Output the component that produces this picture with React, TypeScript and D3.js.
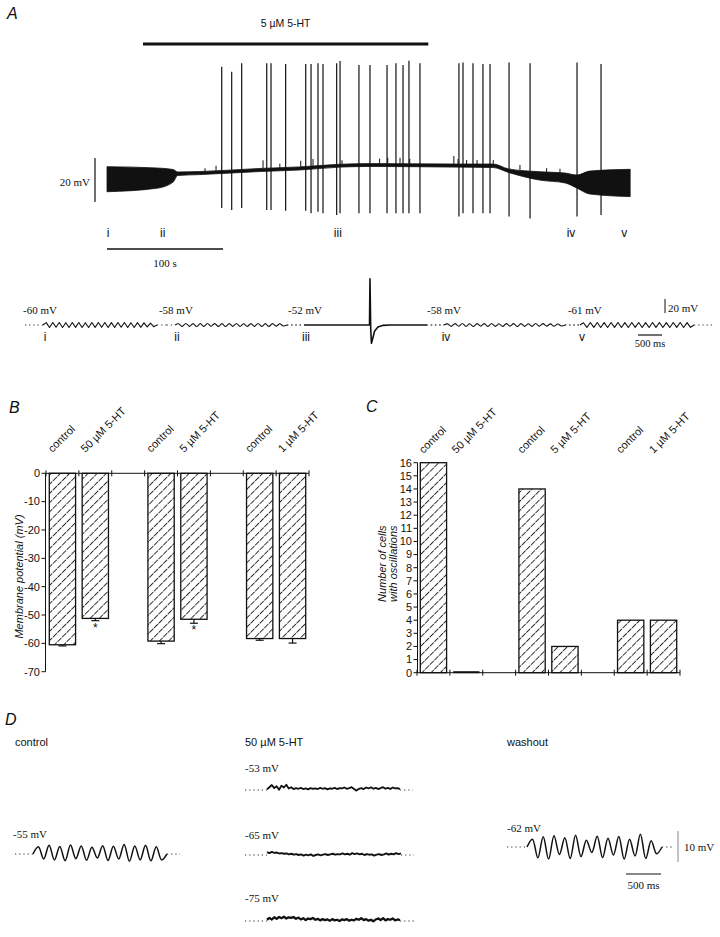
import React from "react";
import * as d3 from "d3";

const SANS = "'Liberation Sans', Arial, Helvetica, sans-serif";
const SERIF = "'Liberation Serif', 'Times New Roman', serif";

// ---------------- Panel A : long recording ----------------
const drugLabel = "5 µM 5-HT";
const drugOnOff = [31, 277]; // s
const envTimes = [0, 43, 57, 61, 80, 132, 166, 201, 227, 300, 333, 346, 373, 395, 405, 416, 451];
const envUpper = [-54.4, -55.0, -55.7, -56.8, -56.6, -55.2, -54.5, -53.3, -53.0, -53.2, -53.2, -55.4, -56.7, -57.3, -58.2, -56.4, -55.6];
const envLower = [-65.8, -64.2, -61.4, -58.4, -58.0, -56.6, -55.9, -54.6, -54.3, -54.6, -54.8, -57.0, -60.5, -61.8, -64.1, -66.8, -68.0];
const spikeTimes = [98.9, 107.5, 116.1, 137.7, 141.4, 154, 171.3, 175.9, 181.9, 186.2, 198, 200.9, 217.2, 226.7, 241.4, 249.1, 255.2, 260.3, 269.8, 303.4, 306.9, 315.5, 324.1, 330.2, 346.6, 364.7, 405.2, 425.9];
const spikePeaks = [-9.0, -11.2, -7.4, -7.4, -7.4, -7.7, -7.7, -7.7, -7.4, -7.7, -7.4, -6.4, -8.2, -8.2, -8.2, -7.4, -8.2, -6.2, -7.4, -7.4, -7.0, -7.4, -7.7, -7.7, -7.0, -7.4, -7.0, -7.7];
const spikeTroughs = [-73.2, -74.1, -73.2, -74.1, -74.1, -74.4, -74.4, -75.6, -74.9, -75.6, -76.4, -75.6, -75.6, -75.6, -75.6, -75.6, -75.6, -75.6, -75.6, -77.1, -75.6, -75.6, -75.6, -75.6, -77.1, -77.9, -77.1, -76.4];
const miniTimes = [84.5, 94, 134.5, 149, 167, 177.6, 202.6, 235, 242, 252.6, 261, 299, 302.6, 310, 319, 333, 356, 379, 390.5];
const miniAmps = [3, 5, 8, 4, 6, 7, 4, 5, 6, 6, 5, 8, 5, 4, 4, 4, 5, 4, 4];
const epochLabels = ["i", "ii", "iii", "iv", "v"];
const epochTimes = [1, 48, 199, 400, 446];

// ---------------- Panel A : expanded traces ----------------
const segLabels = ["-60 mV", "-58 mV", "-52 mV", "-58 mV", "-61 mV"];
const segLabelT = [-40, 2790, 5480, 8375, 11310];
const segStart = [0, 2950, 5460, 8450, 11250];
const segOscStart = [375, 3125, 5812, 8729, 11562];
const segOscEnd = [2750, 5458, 8375, 11250, 13937];
const segEnd = [3000, 5800, 8690, 11560, 14375];
const oscI = [3.4, -3.6, 3.5, -3.2, 3.6, -3.5, 3.3, -3.6, 3.5, -3.4, 3.6, -3.5, 3.2, -3.6, 3.5, -3.4, 3.6, -3.3, 3.5, -3.6, 3.4, -3.5, 3.6, -3.2, 3.5, -3.6, 3.3, -3.5, 3.4, -3.3, 3.0, -2.8, 2.6, -2.4];
const oscII = [1.8, -2.0, 2.1, -1.9, 2.0, -2.1, 1.9, -2.0, 2.1, -1.8, 2.0, -2.0, 1.9, -2.1, 2.0, -1.9, 2.1, -2.0, 1.8, -2.0, 2.0, -1.9, 2.1, -2.0, 1.9, -2.0, 2.0, -1.8, 1.7, -1.5];
const iiiT = [0, 1350, 1365, 1375, 1390, 1405, 1430, 1470, 1540, 1650, 1800, 2563];
const iiiV = [0, 0.3, 0, 66, -4, -26, -20, -9, -3, -0.5, 0, 0];
const oscIV = [1.6, -1.9, 2.0, -1.8, 2.1, -2.0, 1.8, -2.1, 2.0, -1.7, 1.9, -2.0, 2.1, -1.9, 1.8, -2.0, 2.0, -1.8, 1.9, -2.1, 2.0, -1.9, 1.7, -2.0, 2.1, -1.8, 1.9, -1.7, 1.6, -1.8, 1.5, -1.4];
const oscV = [3.2, -3.5, 3.6, -3.4, 3.5, -3.6, 3.3, -3.5, 3.6, -3.4, 3.5, -3.6, 3.4, -3.5, 3.6, -3.3, 3.5, -3.6, 3.4, -3.5, 3.6, -3.4, 3.5, -3.6, 3.3, -3.5, 3.6, -3.4, 3.5, -3.6, 3.4, -3.3];

// ---------------- Panel B ----------------
const groupLabels = ["control", "50 µM 5-HT", "control", "5 µM 5-HT", "control", "1 µM 5-HT"];
const groupSlots = [0, 1, 3, 4, 6, 7];
const vmMeans = [-60.5, -51.2, -59.2, -51.5, -58.3, -58.3];
const vmErrs = [0.4, 0.8, 0.9, 1.4, 0.6, 1.6];
const vmSig = [false, true, false, true, false, false];
const vmTicks = [0, -10, -20, -30, -40, -50, -60, -70];

// ---------------- Panel C ----------------
const oscCounts = [16, 0, 14, 2, 4, 4];
const countTicks = [0, 1, 2, 3, 4, 5, 6, 7, 8, 9, 10, 11, 12, 13, 14, 15, 16];

// ---------------- Panel D ----------------
const dTitles = ["control", "50 µM 5-HT", "washout"];
const ctrlOsc = [2.3, -1.6, 2.8, -1.9, 2.4, -2.2, 2.9, -1.5, 2.6, -2.0, 2.2, -1.3, 2.7, -2.1, 2.5, -1.6, 3.1, -2.3, 2.6, -1.9, 2.8, -2.2, 2.3, -1.9];
const washOsc = [2.5, -3.5, 3.3, -3.9, 3.6, -2.4, 3.0, -3.7, 3.8, -3.1, 2.2, -1.8, 3.5, -3.4, 2.8, -2.6, 3.4, -3.9, 2.5, -2.9, 4.1, -3.7, 2.0, -2.2];
const noise53 = [0.2, 0.9, 1.6, 0.6, 1.2, 0.1, 1.4, 0.8, 1.7, 0.5, 0.9, 0.3, 0.6, 0.4, 0.7, 0.3, 0.5, 0.2, 0.6, 0.4, 0.5, 0.3, 0.7, 0.4, 0.6, 0.2, 0.5, 0.4, 0.7, 0.3, 0.6, 0.5, 0.8, 0.4, 0.6, 0.9, 0.3, -0.2, 0.4, 0.6, 0.3, 0.8, 0.5, 0.9, 0.4, 0.7, 0.3, 0.6, 0.9, 0.4, 0.7, 0.3, 0.8, 0.5, 0.6, 0.3];
const noise65 = [0.9, 0.6, 1.0, 0.7, 0.8, 0.5, 0.6, 0.4, 0.5, 0.2, 0.4, 0.1, 0.3, 0.0, 0.2, -0.2, 0.1, -0.1, 0.2, -0.3, 0.0, 0.2, -0.1, 0.1, 0.3, 0.0, 0.2, 0.4, 0.1, 0.3, 0.2, 0.5, 0.2, 0.4, 0.1, 0.6, 0.3, 0.5, 0.2, 0.4, 0.0, 0.3, 0.1, 0.2, -0.2, 0.1, 0.3, 0.0, 0.2, 0.5, 0.1, 0.4, 0.2, 0.6, 0.3, 0.5];
const noise75 = [0.4, 1.0, 0.5, 1.2, 0.7, 1.3, 0.9, 1.4, 0.8, 1.2, 1.0, 1.3, 0.7, 1.1, 0.5, 0.9, 0.3, 0.8, 0.6, 1.0, 0.4, 0.7, 0.2, 0.6, 0.3, 0.5, 0.1, 0.6, 0.2, 0.4, 0.0, 0.5, 0.3, 0.6, 0.1, 0.4, 0.2, 0.7, 0.4, 0.9, 0.3, 0.6, 0.1, 0.4, -0.1, 0.5, 0.8, 0.3, 0.9, 0.2, 0.6, 0.4, 0.8, 0.2, 0.5, 0.3];
const dLabels = ["-55 mV", "-53 mV", "-65 mV", "-75 mV", "-62 mV"];

// helper: evenly spaced extrema → [t, v] points
function extremaPoints(dur: number, ext: number[]): [number, number][] {
  const n = ext.length + 1;
  return [[0, 0], ...ext.map((v, i) => [((i + 1) * dur) / n, v] as [number, number]), [dur, 0]];
}

export default function App() {
  // ---------- scales A ----------
  const xA = d3.scaleLinear().domain([0, 450]).range([107, 629]);
  const yA = d3.scaleLinear().domain([-60, -40]).range([179, 135]);
  const baseUp = d3.scaleLinear().domain(envTimes).range(envUpper);
  const envArea = d3
    .area<number>()
    .x((t) => xA(t))
    .y0((_, i) => yA(envLower[i]))
    .y1((_, i) => yA(envUpper[i]))
    .curve(d3.curveMonotoneX);

  // ---------- scales A bottom ----------
  const xS = d3.scaleLinear().domain([0, 14375]).range([25, 25 + 14375 * 0.048]);
  const sBase = 325;
  const sMv = 0.7;
  const segOsc = [oscI, oscII, null, oscIV, oscV];
  const lineZig = d3.line<[number, number]>().x((d) => d[0]).y((d) => d[1]);
  const lineSmooth = d3.line<[number, number]>().x((d) => d[0]).y((d) => d[1]).curve(d3.curveCardinal.tension(0.2));

  // ---------- B / C ----------
  const xBand = d3.scaleBand<number>().domain(d3.range(8)).range([46, 309]).paddingInner(0.2).paddingOuter(0.1);
  const yVm = d3.scaleLinear().domain([-70, 0]).range([671.7, 473.3]);
  const xBandC = d3.scaleBand<number>().domain(d3.range(8)).range([417, 680]).paddingInner(0.2).paddingOuter(0.1);
  const yCnt = d3.scaleLinear().domain([0, 16]).range([672.7, 462.7]);

  // ---------- D ----------
  const dMs = 0.07;
  const dMv = 3.1;
  const dTrace = (x0: number, y0: number, leadMs: number, pts: [number, number][], tailMs: number, curve: boolean, sw: number) => {
    const dur = pts[pts.length - 1][0];
    const xs = d3.scaleLinear().domain([0, leadMs + dur + tailMs]).range([x0, x0 + (leadMs + dur + tailMs) * dMs]);
    const gen = d3.line<[number, number]>().x((d) => xs(d[0] + leadMs)).y((d) => y0 - d[1] * dMv);
    if (curve) gen.curve(d3.curveCatmullRom.alpha(0.5));
    return (
      <g>
        <line x1={xs(0)} x2={xs(leadMs)} y1={y0} y2={y0} stroke="#333" strokeWidth={1} strokeDasharray="1.2 3" />
        <path d={gen(pts) || ""} fill="none" stroke="#111" strokeWidth={sw} strokeLinejoin="round" />
        <line x1={xs(leadMs + dur)} x2={xs(leadMs + dur + tailMs)} y1={y0} y2={y0} stroke="#333" strokeWidth={1} strokeDasharray="1.2 3" />
      </g>
    );
  };
  const noisePts = (arr: number[], dur: number): [number, number][] => arr.map((v, i) => [(i * dur) / (arr.length - 1), v]);

  const hatch = (
    <pattern id="hatch" width={6.5} height={6.5} patternUnits="userSpaceOnUse" patternTransform="rotate(45)">
      <line x1={0.5} y1={0} x2={0.5} y2={6.5} stroke="#1a1a1a" strokeWidth={0.9} strokeDasharray="3.6 0.9" />
    </pattern>
  );

  const catLabel = (cx: number, y: number, s: string, k: number) => (
    <text key={k} transform={`translate(${cx - 10},${y}) rotate(-45)`} fontFamily={SANS} fontSize={11} fill="#111">
      {s}
    </text>
  );

  return (
    <svg width={720} height={937} style={{ position: "absolute", left: 0, top: 0, background: "#fff" }}>
      <defs>{hatch}</defs>

      {/* ================= Panel A ================= */}
      <text x={7} y={19} fontFamily={SANS} fontStyle="italic" fontSize={16} fill="#111">A</text>
      <text x={(xA(drugOnOff[0]) + xA(drugOnOff[1])) / 2} y={27} textAnchor="middle" fontFamily={SANS} fontSize={10.5} fill="#111">{drugLabel}</text>
      <line x1={xA(drugOnOff[0])} x2={xA(drugOnOff[1])} y1={44} y2={44} stroke="#111" strokeWidth={3.2} />

      <path d={envArea(envTimes) || ""} fill="#111" stroke="#111" strokeWidth={0.8} />
      {miniTimes.map((t, i) => (
        <line key={"m" + i} x1={xA(t)} x2={xA(t)} y1={yA(baseUp(t))} y2={yA(baseUp(t) + miniAmps[i] / 2.2)} stroke="#111" strokeWidth={1} />
      ))}
      {spikeTimes.map((t, i) => (
        <line key={"s" + i} x1={xA(t)} x2={xA(t)} y1={yA(spikeTroughs[i])} y2={yA(spikePeaks[i])} stroke="#111" strokeWidth={1.2} />
      ))}

      {/* scale bars */}
      <line x1={95} x2={95} y1={158} y2={158 + (yA(-60) - yA(-40))} stroke="#111" strokeWidth={1.2} />
      <text x={90} y={186} textAnchor="end" fontFamily={SERIF} fontSize={11} fill="#111">20 mV</text>
      <line x1={xA(0)} x2={xA(100)} y1={249} y2={249} stroke="#111" strokeWidth={1.3} />
      <text x={(xA(0) + xA(100)) / 2} y={267} textAnchor="middle" fontFamily={SERIF} fontSize={11} fill="#111">100 s</text>

      {epochLabels.map((s, i) => (
        <text key={"e" + i} x={xA(epochTimes[i])} y={237} textAnchor="middle" fontFamily={SANS} fontSize={12} fill="#111">{s}</text>
      ))}

      {/* expanded traces */}
      {segLabels.map((s, i) => {
        const osc = segOsc[i];
        const x0 = xS(segStart[i]);
        const xo0 = xS(segOscStart[i]);
        const xo1 = xS(segOscEnd[i]);
        const x1 = xS(segEnd[i]);
        let d = "";
        if (osc) {
          const pts = extremaPoints(segOscEnd[i] - segOscStart[i], osc).map(
            (p) => [xS(segOscStart[i] + p[0]), sBase - p[1] * sMv] as [number, number]
          );
          d = (i === 1 || i === 3 ? lineSmooth(pts) : lineZig(pts)) || "";
        } else {
          const pts = iiiT.map((t, k) => [xS(segOscStart[i] + t), sBase - iiiV[k] * sMv] as [number, number]);
          d = lineZig(pts) || "";
        }
        return (
          <g key={"seg" + i}>
            <text x={xS(segLabelT[i])} y={314} fontFamily={SERIF} fontSize={11} fill="#111">{s}</text>
            <line x1={x0} x2={xo0} y1={sBase} y2={sBase} stroke="#333" strokeWidth={1} strokeDasharray="1.2 3" />
            <path d={d} fill="none" stroke="#111" strokeWidth={osc ? 1.1 : 1.6} strokeLinejoin="round" />
            <line x1={xo1} x2={x1} y1={sBase} y2={sBase} stroke="#333" strokeWidth={1} strokeDasharray="1.2 3" />
            <text x={xo0 + 2} y={341} textAnchor="middle" fontFamily={SANS} fontSize={12} fill="#111">{epochLabels[i]}</text>
          </g>
        );
      })}
      <line x1={665} x2={665} y1={299} y2={299 + 20 * sMv} stroke="#111" strokeWidth={1} />
      <text x={668} y={312} fontFamily={SERIF} fontSize={11} fill="#111">20 mV</text>
      <line x1={638} x2={638 + 500 * 0.048} y1={335} y2={335} stroke="#111" strokeWidth={1.2} />
      <text x={650} y={347} textAnchor="middle" fontFamily={SERIF} fontSize={10.5} fill="#111">500 ms</text>

      {/* ================= Panel B ================= */}
      <text x={9} y={413} fontFamily={SANS} fontStyle="italic" fontSize={16} fill="#111">B</text>
      {groupLabels.map((s, i) => catLabel((xBand(groupSlots[i]) as number) + xBand.bandwidth() / 2, 453, s, i))}
      {vmMeans.map((m, i) => {
        const x = xBand(groupSlots[i]) as number;
        const w = xBand.bandwidth();
        const yb = yVm(m);
        const ye = yVm(m - vmErrs[i]);
        return (
          <g key={"b" + i}>
            <rect x={x} y={yVm(0)} width={w} height={yb - yVm(0)} fill="url(#hatch)" stroke="#111" strokeWidth={1.3} />
            <line x1={x + w / 2} x2={x + w / 2} y1={yb} y2={ye} stroke="#111" strokeWidth={1.2} />
            <line x1={x + w / 2 - 4} x2={x + w / 2 + 4} y1={ye} y2={ye} stroke="#111" strokeWidth={1.2} />
            {vmSig[i] && (
              <text x={x + w / 2} y={ye + 11} textAnchor="middle" fontFamily={SANS} fontSize={12} fill="#111">*</text>
            )}
          </g>
        );
      })}
      <line x1={45.5} x2={45.5} y1={yVm(0)} y2={yVm(-70)} stroke="#111" strokeWidth={1} />
      <line x1={45.5} x2={309} y1={yVm(0)} y2={yVm(0)} stroke="#111" strokeWidth={1} />
      {d3.range(9).map((k) => {
        const x = 46 + k * xBand.step();
        return <line key={"bt" + k} x1={x} x2={x} y1={yVm(0) - 3} y2={yVm(0) + 3} stroke="#111" strokeWidth={1} />;
      })}
      {vmTicks.map((t) => (
        <g key={"vt" + t}>
          <line x1={41.5} x2={45.5} y1={yVm(t)} y2={yVm(t)} stroke="#111" strokeWidth={1} />
          <text x={40} y={yVm(t)} dy="0.35em" textAnchor="end" fontFamily={SANS} fontSize={11} fill="#111">{t}</text>
        </g>
      ))}
      <text transform={`translate(23,${(yVm(0) + yVm(-70)) / 2 + 4}) rotate(-90)`} textAnchor="middle" fontFamily={SANS} fontStyle="italic" fontSize={11} fill="#111">
        Membrane potential (mV)
      </text>

      {/* ================= Panel C ================= */}
      <text x={366} y={412} fontFamily={SANS} fontStyle="italic" fontSize={16} fill="#111">C</text>
      {groupLabels.map((s, i) => catLabel((xBandC(groupSlots[i]) as number) + xBandC.bandwidth() / 2, 454, s, 10 + i))}
      {oscCounts.map((c, i) => {
        const x = xBandC(groupSlots[i]) as number;
        const w = xBandC.bandwidth();
        return c === 0 ? (
          <line key={"c" + i} x1={x} x2={x + w} y1={yCnt(0) - 0.5} y2={yCnt(0) - 0.5} stroke="#111" strokeWidth={2} />
        ) : (
          <rect key={"c" + i} x={x} y={yCnt(c)} width={w} height={yCnt(0) - yCnt(c)} fill="url(#hatch)" stroke="#111" strokeWidth={1.3} />
        );
      })}
      <line x1={417.5} x2={417.5} y1={yCnt(0)} y2={yCnt(16)} stroke="#111" strokeWidth={1} />
      <line x1={417.5} x2={680} y1={yCnt(0)} y2={yCnt(0)} stroke="#111" strokeWidth={1} />
      {d3.range(9).map((k) => {
        const x = 417 + k * xBandC.step();
        return <line key={"ct" + k} x1={x} x2={x} y1={yCnt(0) - 3} y2={yCnt(0) + 3} stroke="#111" strokeWidth={1} />;
      })}
      {countTicks.map((t) => (
        <g key={"yt" + t}>
          <line x1={413.5} x2={417.5} y1={yCnt(t)} y2={yCnt(t)} stroke="#111" strokeWidth={1} />
          <text x={412} y={yCnt(t)} dy="0.35em" textAnchor="end" fontFamily={SANS} fontSize={11} fill="#111">{t}</text>
        </g>
      ))}
      <text transform={`translate(386,${(yCnt(0) + yCnt(16)) / 2 - 4}) rotate(-90)`} textAnchor="middle" fontFamily={SANS} fontStyle="italic" fontSize={11} fill="#111">
        Number of cells
      </text>
      <text transform={`translate(397,${(yCnt(0) + yCnt(16)) / 2 - 4}) rotate(-90)`} textAnchor="middle" fontFamily={SANS} fontStyle="italic" fontSize={11} fill="#111">
        with oscillations
      </text>

      {/* ================= Panel D ================= */}
      <text x={5} y={725} fontFamily={SANS} fontStyle="italic" fontSize={16} fill="#111">D</text>
      <text x={15} y={746} fontFamily={SANS} fontSize={11} fill="#111">{dTitles[0]}</text>
      <text x={245} y={746} fontFamily={SANS} fontSize={11} fill="#111">{dTitles[1]}</text>
      <text x={507} y={746} fontFamily={SANS} fontSize={11} fill="#111">{dTitles[2]}</text>

      <text x={13} y={838} fontFamily={SERIF} fontSize={11} fill="#111">{dLabels[0]}</text>
      {dTrace(15, 854, 257, extremaPoints(1914, ctrlOsc), 186, true, 1.5)}

      <text x={245} y={772} fontFamily={SERIF} fontSize={11} fill="#111">{dLabels[1]}</text>
      {dTrace(245, 790, 314, noisePts(noise53, 1900), 186, false, 1.8)}
      <text x={245} y={839} fontFamily={SERIF} fontSize={11} fill="#111">{dLabels[2]}</text>
      {dTrace(245, 855, 314, noisePts(noise65, 1914), 186, false, 1.9)}
      <text x={245} y={902} fontFamily={SERIF} fontSize={11} fill="#111">{dLabels[3]}</text>
      {dTrace(245, 921, 314, noisePts(noise75, 1900), 214, false, 2.3)}

      <text x={507} y={832} fontFamily={SERIF} fontSize={11} fill="#111">{dLabels[4]}</text>
      {dTrace(507, 847, 286, extremaPoints(1928, washOsc), 157, true, 1.5)}
      <line x1={678} x2={678} y1={831} y2={831 + 10 * dMv} stroke="#999" strokeWidth={1.2} />
      <text x={684} y={851} fontFamily={SERIF} fontSize={11} fill="#111">10 mV</text>
      <line x1={626} x2={626 + 500 * dMs} y1={874} y2={874} stroke="#111" strokeWidth={1.2} />
      <text x={626 + 250 * dMs} y={889} textAnchor="middle" fontFamily={SERIF} fontSize={11} fill="#111">500 ms</text>
    </svg>
  );
}
